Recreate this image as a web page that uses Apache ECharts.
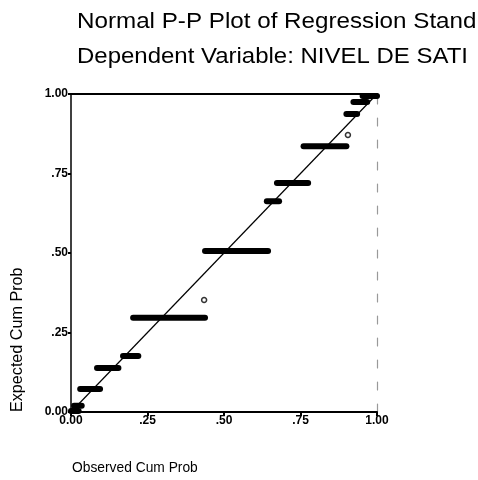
<!DOCTYPE html>
<html><head><meta charset="utf-8">
<script src="https://cdn.jsdelivr.net/npm/echarts@6/dist/echarts.min.js"></script>
<style>html,body{margin:0;padding:0;background:#fff}#c{width:478px;height:480px}</style>
</head><body><div id="c"></div>
<script>
var tickValues = [0, 0.25, 0.5, 0.75, 1];
var tickLabels = ['0.00', '.25', '.50', '.75', '1.00'];
// horizontal clusters of tied points: observed start, observed end, expected
var stepX0 = [0.000, 0.010, 0.030, 0.085, 0.170, 0.203, 0.438, 0.640, 0.673, 0.760, 0.900, 0.923, 0.953];
var stepX1 = [0.025, 0.035, 0.095, 0.155, 0.220, 0.438, 0.644, 0.680, 0.775, 0.900, 0.935, 0.968, 1.000];
var stepY  = [0.003, 0.020, 0.072, 0.138, 0.176, 0.296, 0.506, 0.663, 0.720, 0.836, 0.937, 0.975, 0.994];
// isolated cases
var pointX = [0.435, 0.905];
var pointY = [0.352, 0.871];
var refLine = [[0, 0], [1, 1]];

var series = [{
  type: 'line', data: refLine, symbol: 'none', silent: true,
  lineStyle: {color: '#000', width: 1.2}, z: 2
}];
for (var i = 0; i < stepY.length; i++) {
  series.push({
    type: 'line', data: [[stepX0[i], stepY[i]], [stepX1[i], stepY[i]]],
    symbol: 'none', lineStyle: {color: '#000', width: 6, cap: 'round'}, z: 3
  });
}
series.push({
  type: 'scatter', data: pointX.map(function (x, i) { return [x, pointY[i]]; }),
  symbol: 'circle', symbolSize: 5,
  itemStyle: {color: '#fff', borderColor: '#000', borderWidth: 1.5}, z: 4
});

function fmt(v) {
  var k = tickValues.indexOf(Math.round(v * 100) / 100);
  return k >= 0 ? tickLabels[k] : '';
}
var font = 'Liberation Sans, Arial, sans-serif';
var chart = echarts.init(document.getElementById('c'), null, {renderer: 'canvas'});
chart.setOption({
  animation: false,
  backgroundColor: '#fff',
  grid: {left: 71, right: 101, top: 94, bottom: 68},
  xAxis: [{
    type: 'value', min: 0, max: 1, interval: 0.25,
    axisLine: {show: true, onZero: false, lineStyle: {color: '#000', width: 2}},
    axisTick: {show: true, length: 4, lineStyle: {color: '#000', width: 2}},
    axisLabel: {formatter: fmt, color: '#000', fontSize: 12, fontWeight: 'bold', fontFamily: font, margin: 3},
    splitLine: {show: false}
  }, {
    type: 'value', min: 0, max: 1, position: 'top',
    axisLine: {show: true, onZero: false, lineStyle: {color: '#000', width: 2}},
    axisTick: {show: false}, axisLabel: {show: false}, splitLine: {show: false}
  }],
  yAxis: [{
    type: 'value', min: 0, max: 1, interval: 0.25,
    axisLine: {show: true, onZero: false, lineStyle: {color: '#000', width: 1.5}},
    axisTick: {show: true, length: 3, lineStyle: {color: '#000', width: 2}},
    axisLabel: {formatter: fmt, color: '#000', fontSize: 12, fontWeight: 'bold', fontFamily: font, margin: 3},
    splitLine: {show: false}
  }, {
    type: 'value', min: 0, max: 1, position: 'right',
    axisLine: {show: true, onZero: false, lineStyle: {color: '#999', width: 1.2, type: [8, 14]}},
    axisTick: {show: false}, axisLabel: {show: false}, splitLine: {show: false}
  }],
  graphic: [
    {type: 'text', x: 77, y: 11, scaleX: 1.1, style: {text: 'Normal P-P Plot of Regression Stand', fontSize: 22, fontFamily: font, fill: '#000'}},
    {type: 'text', x: 77, y: 46, scaleX: 1.09, style: {text: 'Dependent Variable: NIVEL DE SATI', fontSize: 22, fontFamily: font, fill: '#000'}},
    {type: 'text', x: 9, y: 412, rotation: Math.PI / 2, scaleX: 0.95, style: {text: 'Expected Cum Prob', fontSize: 17, fontFamily: font, fill: '#000', align: 'left', verticalAlign: 'top'}},
    {type: 'text', x: 72, y: 460, scaleX: 0.92, style: {text: 'Observed Cum Prob', fontSize: 15, fontFamily: font, fill: '#000'}}
  ],
  series: series
});
</script></body></html>
